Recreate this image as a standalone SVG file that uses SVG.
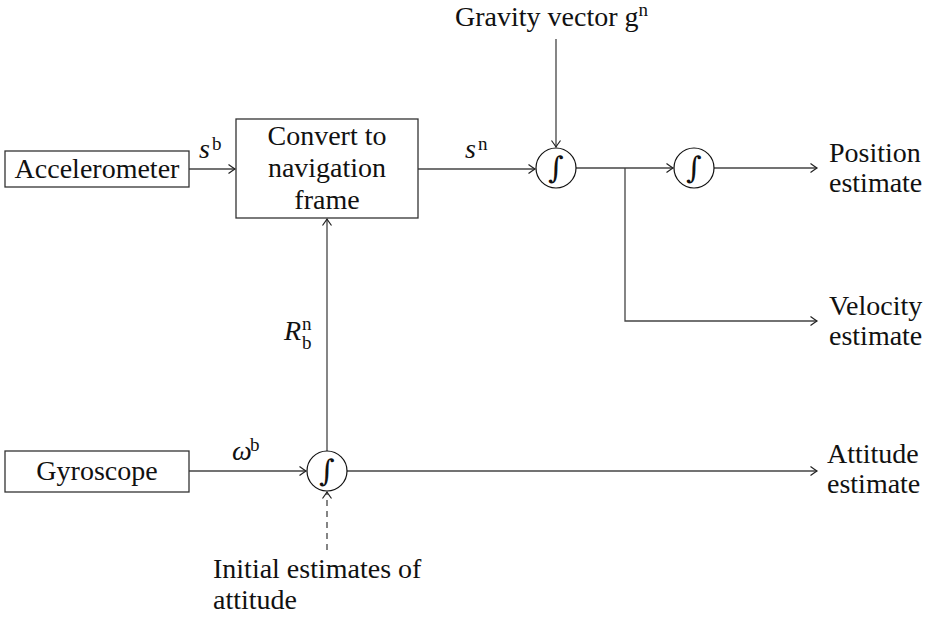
<svg xmlns="http://www.w3.org/2000/svg" width="930" height="618" viewBox="0 0 930 618">
<style>
text{font-family:'Liberation Serif',serif;font-size:28px;fill:#111}
.m{text-anchor:middle}
.it{font-style:italic}
.sup{font-size:19px}
.int{font-family:'DejaVu Serif',serif;font-style:italic;font-size:30px;text-anchor:middle}
.box{fill:#fff;stroke:#333;stroke-width:1.3}
.circ{fill:#fff;stroke:#111;stroke-width:1.2}
.c{fill:none;stroke:#444;stroke-width:1.3}
.d{stroke-dasharray:6 5}
</style>
<defs>
<marker id="ah" markerUnits="userSpaceOnUse" markerWidth="14" markerHeight="14" viewBox="-8 -7 10 14" refX="0" refY="0" orient="auto">
<path d="M-6.5,-4.5 Q-2,-1.2 0,0 Q-2,1.2 -6.5,4.5" fill="none" stroke="#222" stroke-width="1.2"/>
</marker>
</defs>
<g id="connectors">
<path class="c" d="M189,169 H235" marker-end="url(#ah)"/>
<path class="c" d="M418,169 H535" marker-end="url(#ah)"/>
<path class="c" d="M556,39 V147" marker-end="url(#ah)"/>
<path class="c" d="M576,168 H673" marker-end="url(#ah)"/>
<path class="c" d="M714,168 H817" marker-end="url(#ah)"/>
<path class="c" d="M625,168 V321 H817" marker-end="url(#ah)"/>
<path class="c" d="M189,471 H306" marker-end="url(#ah)"/>
<path class="c" d="M327,451 V219" marker-end="url(#ah)"/>
<path class="c d" d="M327,550 V492" marker-end="url(#ah)"/>
<path class="c" d="M347,471 H817" marker-end="url(#ah)"/>
</g>
<g id="accelerometer">
<rect class="box" x="5" y="151" width="184" height="36"/>
<text class="m" x="97" y="178">Accelerometer</text>
</g>
<g id="convert">
<rect class="box" x="236" y="119" width="182" height="99"/>
<text class="m" x="327" y="145">Convert to</text>
<text class="m" x="327" y="177">navigation</text>
<text class="m" x="327" y="209">frame</text>
</g>
<g id="gyroscope">
<rect class="box" x="5" y="451" width="184" height="41"/>
<text class="m" x="97" y="480">Gyroscope</text>
</g>
<g id="int1">
<circle class="circ" cx="556" cy="168" r="20"/>
<text class="int" x="556" y="178">∫</text>
</g>
<g id="int2">
<circle class="circ" cx="694" cy="168" r="20"/>
<text class="int" x="694" y="178">∫</text>
</g>
<g id="int3">
<circle class="circ" cx="327" cy="471" r="20"/>
<text class="int" x="327" y="481">∫</text>
</g>
<g id="gravity">
<text x="455" y="26">Gravity vector g<tspan class="sup" dy="-10">n</tspan></text>
</g>
<g id="labels">
<text class="it" x="199" y="158">s</text>
<text class="sup" x="212" y="150">b</text>
<text class="it" x="465" y="158">s</text>
<text class="sup" x="478" y="150">n</text>
<text class="it" x="232" y="460">ω</text>
<text class="sup" x="250" y="451">b</text>
<text class="it" x="284" y="340">R</text>
<text class="sup" x="302" y="330">n</text>
<text class="sup" x="302" y="349">b</text>
</g>
<g id="position">
<text x="829" y="162">Position</text>
<text x="829" y="192">estimate</text>
</g>
<g id="velocity">
<text x="829" y="315">Velocity</text>
<text x="829" y="345">estimate</text>
</g>
<g id="attitude">
<text x="827" y="463">Attitude</text>
<text x="827" y="493">estimate</text>
</g>
<g id="initial">
<text x="213" y="578">Initial estimates of</text>
<text x="213" y="609">attitude</text>
</g>
</svg>
